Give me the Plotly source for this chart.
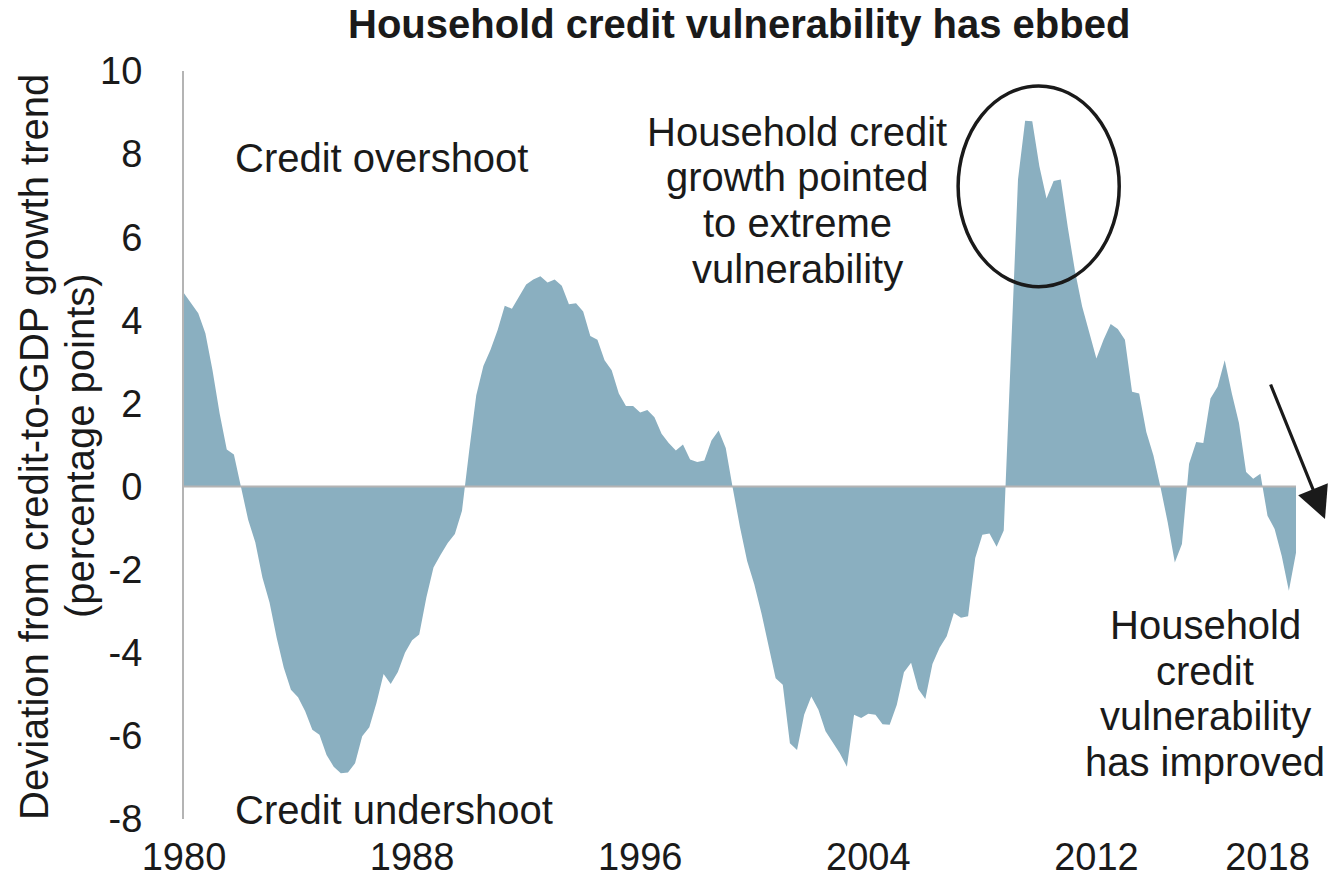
import numpy as np
import plotly.graph_objects as go

# Household credit-to-GDP gap, quarterly from 1980Q1 (percentage points)
start_year = 1980
gap_pp = [
    # 1980Q1 - 1989Q4
    4.65, 4.41, 4.17, 3.69, 2.80, 1.76, 0.89, 0.77, -0.05, -0.80,
    -1.34, -2.19, -2.79, -3.64, -4.36, -4.89, -5.07, -5.41, -5.85, -5.97,
    -6.46, -6.74, -6.90, -6.88, -6.66, -6.01, -5.79, -5.21, -4.51, -4.75,
    -4.46, -4.00, -3.70, -3.56, -2.67, -1.95, -1.64, -1.36, -1.14, -0.58,
    # 1990Q1 - 1999Q1
    0.85, 2.20, 2.90, 3.29, 3.77, 4.35, 4.28, 4.56, 4.86, 4.98,
    5.06, 4.91, 4.98, 4.83, 4.39, 4.41, 4.21, 3.62, 3.53, 3.04,
    2.80, 2.24, 1.94, 1.94, 1.78, 1.84, 1.67, 1.27, 1.05, 0.87,
    1.01, 0.65, 0.59, 0.63, 1.11, 1.35, 0.93,
    # 1999Q2 - 2008Q4
    -0.05, -0.98, -1.79, -2.35, -3.04, -3.80, -4.61, -4.77, -6.18, -6.34,
    -5.49, -5.05, -5.37, -5.89, -6.15, -6.42, -6.74, -5.49, -5.57, -5.47,
    -5.49, -5.72, -5.73, -5.25, -4.47, -4.24, -4.87, -5.11, -4.27, -3.88,
    -3.60, -3.04, -3.16, -3.12, -1.72, -1.16, -1.13, -1.45, -1.06,
    # 2009Q1 - 2019Q1
    3.16, 7.39, 8.80, 8.79, 7.71, 6.93, 7.35, 7.39, 6.22, 5.18,
    4.33, 3.69, 3.08, 3.53, 3.91, 3.79, 3.53, 2.28, 2.24, 1.31,
    0.75, -0.02, -0.86, -1.83, -1.38, 0.55, 1.07, 1.05, 2.12, 2.40,
    3.04, 2.24, 1.53, 0.35, 0.19, 0.31, -0.70, -1.02, -1.67, -2.51,
    -1.59,
]
quarters = start_year + np.arange(len(gap_pp)) / 4

tick_years = [1980, 1988, 1996, 2004, 2012, 2018]
tick_labels = [str(y) for y in tick_years]
y_ticks = list(range(-8, 11, 2))

FONT = "Liberation Sans, Arial, sans-serif"
TEXT = "#1a1a1a"
FILL = "rgb(138,175,192)"
AXIS = "#b4b4b4"

fig = go.Figure(
    go.Scatter(
        x=quarters,
        y=gap_pp,
        mode="lines",
        fill="tozeroy",
        fillcolor=FILL,
        line=dict(width=0, color=FILL),
        hoverinfo="x+y",
        showlegend=False,
    )
)

W, H = 1328, 883
ML, MR, MT, MB = 184, 32, 71, 64
PW, PH = W - ML - MR, H - MT - MB


def px(x):
    return (x - ML) / PW


def py(y):
    return (H - MB - y) / PH


annotations = []


def label(text, x, y, size=40, xanchor="center", angle=0, bold=False):
    annotations.append(dict(
        text=f"<b>{text}</b>" if bold else text,
        xref="paper", yref="paper", x=px(x), y=py(y),
        xanchor=xanchor, yanchor="middle", showarrow=False,
        textangle=angle, font=dict(family=FONT, size=size, color=TEXT),
    ))


label("Household credit vulnerability has ebbed", 739, 24, bold=True)
label("Deviation from credit-to-GDP growth trend", 34, 447, angle=-90)
label("(percentage points)", 80, 446, angle=-90)
label("Credit overshoot", 233, 158, xanchor="left")
label("Credit undershoot", 233, 810, xanchor="left")

for i, line in enumerate(["Household credit", "growth pointed", "to extreme", "vulnerability"]):
    label(line, 797, 132 + i * 45.5)

for i, line in enumerate(["Household", "credit", "vulnerability", "has improved"]):
    label(line, 1205, 625 + i * 45.5)

# downward arrow beside the latest readings
annotations.append(dict(
    text="", xref="paper", yref="paper", x=px(1325), y=py(519),
    ax=1270 - 1325, ay=383 - 519, showarrow=True,
    arrowhead=2, arrowsize=2, arrowwidth=3.2, arrowcolor=TEXT,
))

shapes = [
    # zero line drawn over the fill
    dict(type="line", xref="paper", x0=0, x1=1, yref="y", y0=0, y1=0,
         line=dict(color=AXIS, width=2), layer="above"),
    # ellipse around the post-2008 peak
    dict(type="circle", xref="x", yref="y", x0=2007.15, x1=2012.80,
         y0=4.81, y1=9.64, line=dict(color=TEXT, width=3.5), layer="above"),
]

fig.update_layout(
    width=W, height=H,
    margin=dict(l=ML, r=MR, t=MT, b=MB, autoexpand=False),
    paper_bgcolor="white", plot_bgcolor="white",
    font=dict(family=FONT, color=TEXT),
    annotations=annotations,
    shapes=shapes,
    xaxis=dict(
        range=[1980, 2019], tickvals=tick_years, ticktext=tick_labels,
        showgrid=False, zeroline=False, showline=False, automargin=False,
        ticks="outside", ticklen=4, tickcolor="rgba(0,0,0,0)",
        tickfont=dict(family=FONT, size=38, color=TEXT),
    ),
    yaxis=dict(
        range=[-8, 10], tickvals=y_ticks, ticktext=[str(v) for v in y_ticks],
        showgrid=False, zeroline=False, showline=True, automargin=False,
        linecolor=AXIS, linewidth=2,
        ticks="outside", ticklen=32, tickcolor="rgba(0,0,0,0)",
        tickfont=dict(family=FONT, size=38, color=TEXT),
    ),
)

fig.write_html("out.html")
